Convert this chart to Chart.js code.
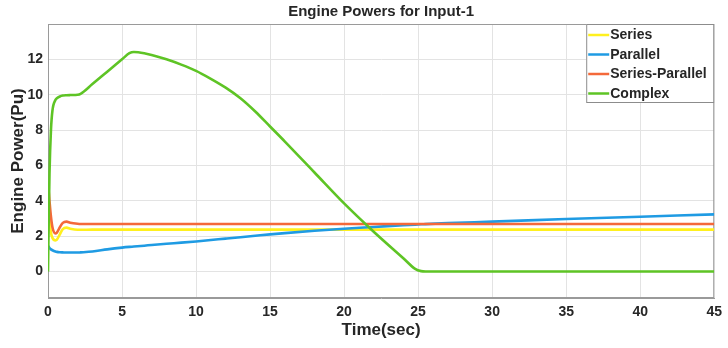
<!DOCTYPE html>
<html>
<head>
<meta charset="utf-8">
<title>Engine Powers for Input-1</title>
<script src="https://cdn.jsdelivr.net/npm/chart.js@4/dist/chart.umd.min.js"></script>
<style>
    html, body { margin: 0; padding: 0; background: #fff; }
    #wrap { width: 728px; height: 348px; position: relative; }
</style>
</head>
<body>
<div id="wrap"><canvas id="powerChart"></canvas></div>
<script>
// Simulation time samples (sec) shared by every drivetrain series
const timeSec = [0, 0.05, 0.1, 0.2, 0.3, 0.5, 0.6, 0.8, 1.0, 1.25, 1.5, 2, 2.2, 3, 4, 5, 5.5, 5.8,
    6.5, 7, 8, 9, 10, 11, 12, 13, 14, 15, 16, 18, 20, 22, 24, 24.8, 25.2, 25.5, 27, 30, 35, 40, 45];

// Engine power (Pu) for each configuration
const seriesPower = [4.3, 3.8, 3.0, 2.2, 1.9, 1.76, 1.8, 2.1, 2.4, 2.48, 2.42, 2.36, 2.36, 2.37, 2.37, 2.37, 2.37, 2.37,
    2.37, 2.37, 2.37, 2.37, 2.37, 2.37, 2.37, 2.37, 2.37, 2.37, 2.37, 2.37, 2.37, 2.37, 2.37, 2.37, 2.37, 2.37, 2.37, 2.37, 2.37, 2.37, 2.37];
const parallelPower = [1.45, 1.4, 1.33, 1.25, 1.2, 1.13, 1.11, 1.09, 1.08, 1.07, 1.07, 1.07, 1.08, 1.13, 1.25, 1.35, 1.39, 1.41,
    1.46, 1.5, 1.57, 1.63, 1.7, 1.78, 1.86, 1.94, 2.02, 2.1, 2.17, 2.3, 2.42, 2.52, 2.62, 2.65, 2.67, 2.68, 2.74, 2.82, 2.97, 3.1, 3.23];
const seriesParallelPower = [4.7, 4.5, 4.0, 3.1, 2.5, 2.15, 2.2, 2.5, 2.75, 2.82, 2.76, 2.7, 2.69, 2.69, 2.69, 2.69, 2.69, 2.69,
    2.69, 2.69, 2.69, 2.69, 2.69, 2.69, 2.69, 2.69, 2.69, 2.69, 2.69, 2.69, 2.69, 2.69, 2.69, 2.69, 2.69, 2.69, 2.69, 2.69, 2.69, 2.69, 2.69];
const complexPower = [0, 3, 5.5, 8.0, 9.1, 9.7, 9.8, 9.9, 9.95, 9.97, 9.98, 10.0, 10.05, 10.6, 11.3, 12.0, 12.35, 12.42,
    12.35, 12.25, 12.0, 11.7, 11.35, 10.9, 10.4, 9.8, 9.05, 8.2, 7.35, 5.6, 3.85, 2.25, 0.75, 0.15, 0.02, 0, 0, 0, 0, 0, 0];

const seriesNames = ['Series', 'Parallel', 'Series-Parallel', 'Complex'];
const seriesColors = ['#fff01e', '#1f9be3', '#f4693a', '#5ec425'];

const xTicks = [0, 5, 10, 15, 20, 25, 30, 35, 40, 45];
const yTicks = [0, 2, 4, 6, 8, 10, 12];

const chartTitle = 'Engine Powers for Input-1';

const FONT = "'Liberation Sans', Arial, Helvetica, sans-serif";
const TEXT = '#262626';

function toPoints(values) {
    return values.map((v, i) => ({ x: timeSec[i], y: v }));
}

// Frame around the whole plot area (top and right sides included),
// plus the title centred over the plot rather than the canvas
const frameBox = {
    id: 'frameBox',
    beforeDatasetsDraw(chart) {
        const { ctx, chartArea: a } = chart;
        ctx.save();
        ctx.strokeStyle = '#9a9a9a';
        ctx.lineWidth = 1;
        ctx.strokeRect(a.left + 0.5, a.top + 0.5, a.right - a.left - 1, a.bottom - a.top - 1);
        ctx.font = 'bold 15px ' + FONT;
        ctx.fillStyle = TEXT;
        ctx.textAlign = 'center';
        ctx.textBaseline = 'middle';
        ctx.fillText(chartTitle, (a.left + a.right) / 2, 12);
        ctx.restore();
    }
};

// Boxed legend in the upper-right corner of the plot
const insideLegend = {
    id: 'insideLegend',
    afterDatasetsDraw(chart) {
        const { ctx, chartArea: a } = chart;
        const rowH = 19.5;
        const boxW = 128, boxH = 79;
        const x0 = a.right - boxW, y0 = a.top;
        ctx.save();
        ctx.fillStyle = '#fff';
        ctx.fillRect(x0, y0, boxW, boxH);
        ctx.strokeStyle = '#8c8c8c';
        ctx.lineWidth = 1;
        ctx.strokeRect(x0 + 0.5, y0 + 0.5, boxW - 1, boxH - 1);
        ctx.font = 'bold 14px ' + FONT;
        ctx.textBaseline = 'middle';
        chart.data.datasets.forEach((ds, i) => {
            const cy = y0 + 11 + i * rowH;
            ctx.strokeStyle = ds.borderColor;
            ctx.lineWidth = 2.5;
            ctx.beginPath();
            ctx.moveTo(x0 + 2, cy);
            ctx.lineTo(x0 + 23, cy);
            ctx.stroke();
            ctx.fillStyle = TEXT;
            ctx.fillText(ds.label, x0 + 24, cy + 0.5);
        });
        ctx.restore();
    }
};

const ctx = document.getElementById('powerChart').getContext('2d');

new Chart(ctx, {
    type: 'line',
    data: {
        datasets: [
            { label: seriesNames[0], data: toPoints(seriesPower), borderColor: seriesColors[0], order: 4 },
            { label: seriesNames[1], data: toPoints(parallelPower), borderColor: seriesColors[1], order: 3 },
            { label: seriesNames[2], data: toPoints(seriesParallelPower), borderColor: seriesColors[2], order: 2 },
            { label: seriesNames[3], data: toPoints(complexPower), borderColor: seriesColors[3], order: 1 }
        ]
    },
    options: {
        responsive: true,
        maintainAspectRatio: false,
        animation: false,
        layout: { padding: { left: 0, right: 13, top: 24, bottom: 0 } },
        elements: {
            line: { borderWidth: 2.6, cubicInterpolationMode: 'monotone', fill: false },
            point: { radius: 0 }
        },
        plugins: {
            legend: { display: false },
            tooltip: { enabled: false },
            title: { display: false }
        },
        scales: {
            x: {
                type: 'linear',
                min: 0,
                max: 45,
                afterBuildTicks: s => { s.ticks = xTicks.map(v => ({ value: v })); },
                afterFit: s => { s.height = 50; },
                grid: { color: '#e3e3e3', drawTicks: false },
                border: { color: '#9a9a9a' },
                ticks: {
                    padding: 6,
                    color: TEXT,
                    maxRotation: 0,
                    font: { family: FONT, size: 14, weight: 'bold' }
                },
                title: {
                    display: true,
                    text: 'Time(sec)',
                    color: TEXT,
                    font: { family: FONT, size: 17, weight: 'bold' },
                    padding: { top: 0, bottom: 7 }
                }
            },
            y: {
                type: 'linear',
                min: -1.5,
                max: 14,
                afterBuildTicks: s => { s.ticks = yTicks.map(v => ({ value: v })); },
                afterFit: s => { s.width = 48; },
                grid: { color: '#e3e3e3', drawTicks: false },
                border: { color: '#9a9a9a' },
                ticks: {
                    padding: 5,
                    color: TEXT,
                    font: { family: FONT, size: 14, weight: 'bold' }
                },
                title: {
                    display: true,
                    text: 'Engine Power(Pu)',
                    color: TEXT,
                    font: { family: FONT, size: 17, weight: 'bold' },
                    padding: { top: 8, bottom: 0 }
                }
            }
        }
    },
    plugins: [frameBox, insideLegend]
});
</script>
</body>
</html>
